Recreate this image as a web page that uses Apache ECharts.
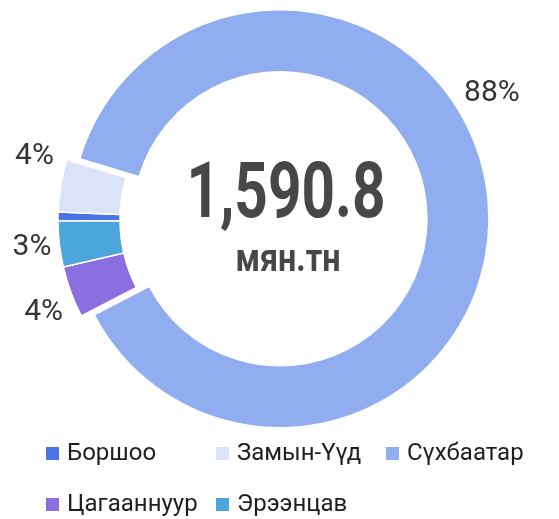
<!DOCTYPE html>
<html>
<head>
<meta charset="utf-8">
<script src="https://cdn.jsdelivr.net/npm/echarts@6/dist/echarts.min.js"></script>
<style>
html,body{margin:0;padding:0;background:#fff;}
#chart{width:559px;height:519px;}
</style>
</head>
<body>
<div id="chart"></div>
<script>
const categories = ['Боршоо', 'Замын-Үүд', 'Сүхбаатар', 'Цагааннуур', 'Эрээнцав'];
const values = [11, 64, 1396.3, 63.5, 56];
const colors = ['#4a73e8', '#dae3f9', '#90adf0', '#8b6ee0', '#4da6db'];
const unitLabel = 'мян.тн';

const FONT = 'Roboto, sans-serif';
const total = values.reduce((a, b) => a + b, 0);
const totalText = total.toLocaleString('en-US', {minimumFractionDigits: 1, maximumFractionDigits: 1});

const data = categories.map((name, i) => {
  const item = {name: name, value: values[i], itemStyle: {color: colors[i]}};
  if (name === 'Сүхбаатар') item.selected = true;
  if (name === 'Боршоо') item.label = {show: false};
  return item;
});

// small nudges so the percentage labels sit where the reference puts them
const labelNudge = {'Замын-Үүд': [4, -29], 'Эрээнцав': [3, 3], 'Цагааннуур': [3, 19], 'Сүхбаатар': [-35, -105]};

const chart = echarts.init(document.getElementById('chart'), null, {renderer: 'canvas'});
chart.setOption({
  animation: false,
  legend: {
    data: categories,
    left: 44,
    top: 433,
    padding: 0,
    orient: 'horizontal',
    icon: 'rect',
    itemWidth: 15,
    itemHeight: 15,
    itemGap: 10,
    selectedMode: false,
    textStyle: {fontFamily: FONT, fontSize: 24, color: '#1e1e1e', width: 137, lineHeight: 41, padding: [0, 0, 0, 2]}
  },
  graphic: [
    {type: 'text', x: 286, y: 198, scaleX: 0.76, style: {text: totalText, font: 'bold 77px ' + FONT, fill: '#474747', align: 'center', verticalAlign: 'middle', shadowColor: 'rgba(0,0,0,0.35)', shadowBlur: 4, shadowOffsetY: 2}},
    {type: 'text', x: 288, y: 261, scaleX: 0.85, style: {text: unitLabel, font: 'bold 38px ' + FONT, fill: '#474747', align: 'center', verticalAlign: 'middle', shadowColor: 'rgba(0,0,0,0.3)', shadowBlur: 3, shadowOffsetY: 1}}
  ],
  series: [{
    type: 'pie',
    center: [267, 220],
    radius: [147, 209],
    startAngle: 180.3,
    percentPrecision: 0,
    selectedMode: 'single',
    selectedOffset: 13,
    avoidLabelOverlap: false,
    emphasis: {disabled: true},
    itemStyle: {borderColor: '#fff', borderWidth: 1.5},
    label: {show: true, position: 'outside', formatter: '{d}%', fontFamily: FONT, fontSize: 30, color: '#333', overflow: 'none'},
    labelLine: {show: false, length: 4, length2: 2},
    labelLayout: function (params) {
      const n = labelNudge[categories[params.dataIndex]];
      return n ? {dx: n[0], dy: n[1]} : {};
    },
    data: data
  }]
});
</script>
</body>
</html>
